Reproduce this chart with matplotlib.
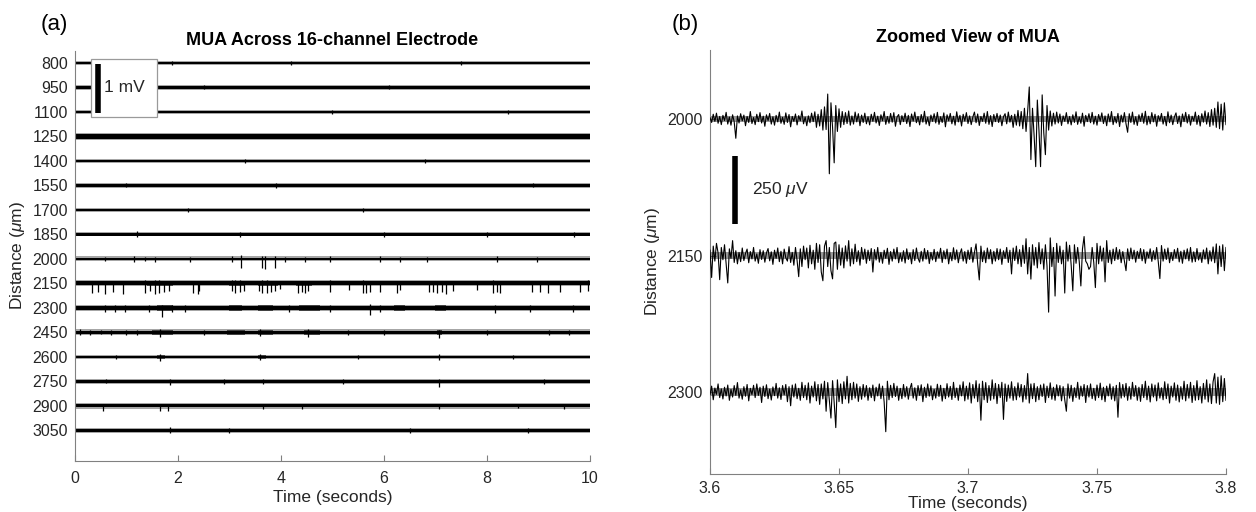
import numpy as np
import matplotlib
matplotlib.use("Agg")
import matplotlib.pyplot as plt
from matplotlib.patches import Rectangle

plt.rcParams['font.family'] = ['Liberation Sans', 'DejaVu Sans']
plt.rcParams['mathtext.fontset'] = 'custom'
plt.rcParams['mathtext.rm'] = 'Liberation Sans'
plt.rcParams['mathtext.it'] = 'Liberation Sans:italic'

# ---------------- data: panel (a) ----------------
depths = [800, 950, 1100, 1250, 1400, 1550, 1700, 1850,
          2000, 2150, 2300, 2450, 2600, 2750, 2900, 3050]
depth_labels = [str(d) for d in depths]
# dense core noise half-width per channel (uV) and peak noise envelope (uV)
noise_uv = [26, 26, 24, 50, 26, 26, 26, 24, 26, 40, 34, 36, 28, 28, 30, 34]
noise_peak_uv = [45, 45, 42, 75, 45, 45, 45, 42, 50, 62, 60, 62, 50, 50, 52, 58]

# spikes per channel: (time s, lowest uV, highest uV)
spikes_800 = [(1.88, -40, 45), (4.2, -35, 40), (7.5, -35, 40)]
spikes_950 = [(2.5, -40, 40), (6.1, -35, 40)]
spikes_1100 = [(1.2, -40, 40), (5.0, -35, 40), (8.4, -40, 35)]
spikes_1250 = []
spikes_1400 = [(3.3, -45, 40), (6.8, -40, 45)]
spikes_1550 = [(1.0, -40, 45), (3.9, -45, 40), (8.9, -40, 40)]
spikes_1700 = [(2.2, -40, 40), (5.6, -45, 40)]
spikes_1850 = [(1.2, -50, 60), (3.2, -50, 50), (6.0, -50, 45), (8.0, -45, 50), (9.7, -50, 45)]
spikes_2000 = [(0.58, -50, 45), (1.15, -60, 50), (1.36, -50, 40), (1.55, -55, 45),
               (2.23, -60, 45), (3.05, -70, 60), (3.22, -190, 90), (3.63, -190, 60),
               (3.69, -200, 60), (3.88, -190, 50), (4.08, -60, 45), (4.47, -55, 45),
               (4.95, -55, 50), (5.92, -70, 50), (6.31, -60, 45), (6.83, -55, 45),
               (8.19, -60, 50), (8.97, -55, 45)]
spikes_2150 = [(0.33, -200, 60), (0.45, -180, 50), (0.58, -210, 60), (0.73, -170, 50),
               (0.93, -220, 60), (1.35, -200, 70), (1.46, -160, 60), (1.55, -210, 70),
               (1.64, -190, 70), (1.72, -170, 60), (1.82, -150, 60), (2.30, -200, 50),
               (2.39, -210, 60), (2.41, -150, 50), (3.05, -150, 70), (3.11, -200, 80),
               (3.21, -180, 70), (3.28, -160, 60), (3.57, -160, 60), (3.63, -190, 70),
               (3.73, -200, 70), (3.81, -170, 60), (3.89, -150, 60), (3.99, -120, 50),
               (4.34, -200, 60), (4.41, -180, 60), (4.47, -200, 50), (4.53, -160, 50),
               (4.95, -180, 80), (5.33, -140, 50), (5.60, -190, 70), (5.66, -200, 60),
               (5.73, -180, 60), (5.92, -170, 60), (6.26, -190, 60), (6.31, -140, 50),
               (6.88, -180, 60), (6.96, -170, 60), (7.03, -190, 60), (7.12, -180, 60),
               (7.20, -210, 60), (7.34, -150, 50), (7.80, -140, 50), (8.12, -200, 70),
               (8.19, -180, 60), (8.25, -190, 60), (8.87, -180, 60), (9.03, -170, 60),
               (9.19, -190, 60), (9.42, -180, 60), (9.81, -170, 60), (9.97, -160, 80)]
spikes_2300 = [(0.58, -90, 50), (0.78, -80, 50), (0.97, -90, 50), (1.44, -80, 50),
               (1.69, -180, 60), (1.88, -90, 60), (2.14, -80, 50), (4.16, -90, 50),
               (4.95, -80, 60), (5.73, -140, 80), (5.92, -90, 60), (8.16, -110, 70),
               (8.83, -80, 50), (9.67, -80, 50)]
spikes_2450 = [(0.1, -50, 70), (0.3, -60, 60), (0.5, -40, 60), (0.7, -60, 50),
               (1.0, -50, 50), (1.2, -60, 60), (1.65, -90, 80), (2.5, -50, 50),
               (3.6, -70, 70), (4.52, -90, 70), (5.3, -50, 60), (6.0, -60, 50),
               (7.07, -110, 60), (8.0, -50, 50), (9.2, -60, 60), (9.6, -60, 50)]
spikes_2600 = [(0.8, -45, 50), (1.65, -80, 60), (3.6, -60, 60), (5.5, -50, 50),
               (7.07, -70, 60), (8.5, -45, 50)]
spikes_2750 = [(0.6, -40, 45), (1.85, -80, 60), (2.9, -50, 50), (3.65, -60, 50),
               (5.2, -45, 50), (7.07, -110, 60), (9.1, -60, 50)]
spikes_2900 = [(0.54, -110, 40), (1.65, -110, 50), (1.8, -100, 40), (3.65, -70, 50),
               (4.4, -60, 50), (7.07, -70, 50), (8.6, -50, 50), (9.5, -60, 45)]
spikes_3050 = [(1.85, -60, 80), (3.0, -50, 50), (6.5, -45, 50), (8.8, -50, 55)]

# bursts of thicker activity: (start s, end s, half-width uV)
bursts_2150 = [(1.4, 1.9, 58), (3.0, 3.3, 58), (3.55, 3.95, 58), (4.3, 4.6, 55)]
bursts_2300 = [(1.6, 1.9, 62), (3.0, 3.25, 55), (3.55, 3.85, 62), (4.35, 4.75, 58),
               (6.2, 6.4, 62), (7.0, 7.2, 62)]
bursts_2450 = [(1.5, 1.9, 58), (2.95, 3.3, 58), (3.55, 3.85, 58), (4.45, 4.75, 58),
               (7.03, 7.13, 58)]
bursts_2600 = [(1.6, 1.75, 48), (3.55, 3.7, 48)]

spike_lists = [spikes_800, spikes_950, spikes_1100, spikes_1250, spikes_1400,
               spikes_1550, spikes_1700, spikes_1850, spikes_2000, spikes_2150,
               spikes_2300, spikes_2450, spikes_2600, spikes_2750, spikes_2900,
               spikes_3050]
burst_lists = {2150: bursts_2150, 2300: bursts_2300, 2450: bursts_2450, 2600: bursts_2600}

x_ticks_a = [0, 2, 4, 6, 8, 10]

# ---------------- data: panel (b) ----------------
zoom_depths = [2000, 2150, 2300]
zoom_labels = ['2000', '2150', '2300']
zoom_core_uv = [12, 14, 14]
x_ticks_b = [3.6, 3.65, 3.7, 3.75, 3.8]
x_ticklabels_b = ['3.6', '3.65', '3.7', '3.75', '3.8']

v2000 = [5, -12, 18, -8, 22, -15, 10, -20, 14, -5, 25, -18, 8, -22, 16, -10, -70, 12, -14, 20,
         -6, 15, -24, 10, -12, 28, -16, 6, -20, 18, -9, 24, -14, 11, -26, 16, -5, 21, -18, 9,
         -22, 14, -10, 26, -15, 7, -19, 23, -12, 17, -28, 10, -8, 19, -21, 13, -6, 30, -17, 8,
         -24, 12, -13, 22, -9, 27, -30, 18, -25, 35, -40, 45, -38, 92, -200, 60, -30, -160, 50, -45,
         38, -30, 28, -20, 24, -16, 30, -22, 12, -18, 26, -10, 20, -24, 15, -12, 22, -17, 9, -21,
         18, -8, 25, -14, 11, -23, 16, -6, 28, -19, 10, -15, 21, -11, 24, -26, 8, 17, -20, 13,
         -9, 22, -16, 14, -27, 19, -7, 26, -13, 10, -21, 17, -11, 29, -18, 7, -24, 15, -8, 20,
         -14, 25, -19, 9, -12, 23, -28, 16, -6, 21, -17, 11, -22, 27, -10, 14, -25, 18, -7, 24,
         -16, 12, -20, 8, 26, -13, 19, -23, 10, -8, 22, -15, 28, -19, 13, -27, 17, -9, 21, -12,
         15, -24, 9, 20, -17, 26, -11, 14, -30, 18, -22, 32, -25, 28, -35, 40, -45, 30, 118, -148,
         40, -60, -174, 70, -40, -174, 89, -50, -130, 50, -40, 30, -25, 22, -18, 26, -14, 19, -23, 12,
         -8, 24, -17, 10, -21, 16, -12, 27, -19, 8, -15, 22, -26, 14, -9, 20, -13, 25, -18, 11,
         -22, 17, -7, 23, -16, 12, -24, 19, -10, 28, -20, 9, -14, 21, -27, 15, -11, 24, -17, -48,
         20, -12, 26, -19, 9, -23, 16, -8, 22, -15, 29, -21, 11, -17, 24, -10, 18, -26, 13, -6,
         21, -18, 10, -24, 27, -13, 15, -20, 8, 23, -16, 12, -28, 19, -9, 25, -14, 17, -22, 11,
         -7, 26, -19, 14, -25, 20, -11, 30, -18, 24, -27, 35, -22, 40, -30, 63, -35, 55, -40, 60,
         -20]

v2150 = [20, -80, 35, -20, 45, 10, -88, 30, -15, 40, -30, -100, 25, -10, 55, -25, 18, -30, 12, -22,
         28, -18, 8, 24, -26, 15, -12, 30, -20, 6, -28, 22, -14, 18, -24, 10, 26, -19, 14, -32,
         20, -10, 28, -22, 16, -30, 24, -8, -20, 33, -25, 12, -35, 30, -18, -77, 25, -40, 35, -15,
         28, -45, 38, -30, 20, -50, 45, -25, 40, -60, -92, 35, 55, -40, 30, -55, -85, 45, 50, -50,
         40, -35, 28, -45, 36, -20, 55, -38, 25, -30, 42, -22, 18, -35, 30, -14, 24, -28, 20, -18,
         26, -60, 22, -16, 30, -24, 12, -28, 20, -10, 27, -32, 15, -20, 24, -12, 30, -26, 9, -21,
         18, -27, 25, -14, 10, -30, 22, -18, 28, -9, -24, 16, -20, 26, -13, 19, -29, 12, -16, 23,
         -22, 14, -8, 27, -25, 18, -12, 24, -30, 11, -19, 29, -15, 21, -26, 8, 25, -20, 15, -28,
         20, -14, 30, -24, 12, 43, -30, -89, 35, -22, 18, -26, 28, -12, 22, -30, 16, -20, 26, -15,
         24, -32, 18, -10, 30, -25, 20, -67, 28, -18, 35, -30, 22, -40, 38, -28, 62, -67, 30, -86,
         40, -35, 30, -45, 48, -30, 25, -50, 40, -38, -207, 65, -40, 30, -148, 45, -25, 35, -30, 20,
         -137, 50, -20, 38, -35, -129, 40, -28, 30, -22, -111, 25, 70, -20, -30, -50, -40, 30, -25, -117,
         45, -30, 35, -20, 28, -96, 55, -25, 20, -30, 24, -18, 30, -14, 22, -26, 15, -20, -55, 25,
         -18, 28, -12, 20, -24, 16, -10, 26, -19, 22, -28, 14, -8, 25, -21, 18, -15, 30, -22, -84,
         37, -20, 24, -14, 28, -26, 12, -18, 22, -9, 27, -23, 16, -28, 20, -12, 25, -19, 30, -24,
         14, -22, 26, -16, 10, -25, 21, -13, 28, -30, 18, -20, 32, -26, 43, -67, 35, -40, 40, -55,
         30]

v2300 = [-10, 22, -28, 15, -8, 30, -20, 12, -25, 18, -14, 26, -30, 10, -18, 24, -12, 35, -22, 8,
         -26, 20, -15, 28, -32, 14, -9, 25, -20, 30, -12, 18, -38, 22, -16, 27, -24, 11, -29, 19,
         -13, 32, -22, 16, -27, 24, -10, 28, -35, 20, -50, 26, -18, 30, -24, 14, -30, 36, -20, 25,
         -28, 34, -40, 22, -18, 38, -32, 28, -45, 30, -25, 40, -70, 35, -30, -95, 42, -38, -130, 45,
         -35, 30, -42, 38, -25, 58, -40, 32, -28, 36, -22, 30, -34, 20, -26, 28, -18, 24, -30, 16,
         -20, 26, -32, 18, -14, 30, -24, 22, -36, -145, 40, -28, 25, -20, 32, -16, 22, -30, 14, -24,
         28, -18, 20, -26, 12, 32, -22, 16, -30, 24, -12, 27, -35, 18, -20, 30, -15, 23, -28, 10,
         -22, 29, -16, 25, -33, 14, -24, 31, -18, 21, -27, 36, -20, 15, -30, 26, -14, 38, -32, 22,
         -26, 34, -40, 28, -22, 42, -35, 30, -103, 40, -28, 35, -38, 24, -30, 45, -25, 32, -42, 28,
         -20, 36, -100, 30, -34, 26, -22, 38, -30, 20, -28, 34, -18, 28, -36, 24, -26, 68, -40, 30,
         -24, 32, -35, 20, -28, 26, -16, 30, -38, 22, -20, 34, -26, 18, -30, 27, -14, 24, -32, 20,
         -28, -70, 30, -22, 25, -34, 16, -20, 36, -26, 22, -15, 28, -38, 24, -18, 30, -24, 14, -30,
         26, -20, 33, -28, 18, -35, 22, -14, 30, -26, 20, -32, 25, -92, 35, -22, 28, -18, 32, -30,
         20, -26, 36, -16, 24, -30, 18, -34, 28, -20, 40, -28, 22, -36, 30, -18, 26, -32, 34, -22,
         16, -28, 38, -24, 30, -40, 22, -18, 34, -30, 26, -36, 20, -26, 40, -32, 28, -22, 36, -38,
         24, -30, 42, -28, 20, -40, 32, -26, 45, -36, 30, -42, 38, 68, -40, 55, -45, 60, -35, 50,
         -30]
zoom_traces = [v2000, v2150, v2300]

scale_a_uv = 1000
scale_a_label = '1 mV'
scale_b_uv = 250
scale_b_label = r'250 $\mu$V'

# ---------------- styling ----------------
K = 0.3            # depth units per uV
TXT = '#262626'
SPINE = '#808080'

fig = plt.figure(figsize=(12.56, 5.12), dpi=100)
ax1 = fig.add_axes([0.0597, 0.0996, 0.4100, 0.8008])
ax2 = fig.add_axes([0.5653, 0.0742, 0.4108, 0.8281])

# ---- panel (a)
for d, hw, pk, spk in zip(depths, noise_uv, noise_peak_uv, spike_lists):
    ax1.fill_between([0, 10], d - pk * K, d + pk * K, color='k', alpha=0.35, lw=0, zorder=2)
    ax1.fill_between([0, 10], d - hw * K, d + hw * K, color='k', lw=0, zorder=2)
    for (t0, t1, a) in burst_lists.get(d, []):
        ax1.fill_between([t0, t1], d - a * K, d + a * K, color='k', alpha=0.6, lw=0, zorder=2)
    if spk:
        ts = [s[0] for s in spk]
        lo = np.array([s[1] for s in spk])
        hi = np.array([s[2] for s in spk])
        ax1.vlines(ts, d - hi * K, d - lo * K, color='k', lw=0.9, zorder=2)

ax1.set_xlim(0, 10)
ax1.set_ylim(3237, 727)
ax1.set_xticks(x_ticks_a)
ax1.set_xticklabels([str(v) for v in x_ticks_a])
ax1.set_yticks(depths)
ax1.set_yticklabels(depth_labels)
ax1.set_xlabel('Time (seconds)', fontsize=12.5, color=TXT, labelpad=3)
ax1.set_ylabel(r'Distance ($\mu$m)', fontsize=12.5, color=TXT, labelpad=4)
ax1.set_title('MUA Across 16-channel Electrode', fontsize=13, fontweight='bold',
              color='k', pad=4)

# scale bar box (a)
ax1.add_patch(Rectangle((0.31, 775), 1.28, 355, facecolor='white', edgecolor='#9a9a9a',
                        lw=0.9, zorder=5))
ax1.plot([0.45, 0.45], [806, 806 + scale_a_uv * K], color='k', lw=4.0,
         solid_capstyle='butt', zorder=6)
ax1.text(0.56, 953, scale_a_label, fontsize=12.5, color=TXT, va='center', ha='left', zorder=6)

# ---- panel (b)
for d, v, core in zip(zoom_depths, zoom_traces, zoom_core_uv):
    t = np.linspace(3.6, 3.8, len(v))
    ax2.fill_between([3.6, 3.8], d - core * K, d + core * K, color='k', alpha=0.4,
                     lw=0, zorder=2)
    ax2.plot(t, d - np.array(v) * K, color='k', lw=0.8, zorder=3)

ax2.set_xlim(3.6, 3.8)
ax2.set_ylim(2390, 1924)
ax2.set_xticks(x_ticks_b)
ax2.set_xticklabels(x_ticklabels_b)
ax2.set_yticks(zoom_depths)
ax2.set_yticklabels(zoom_labels)
ax2.set_xlabel('Time (seconds)', fontsize=12.5, color=TXT, labelpad=0)
ax2.set_ylabel(r'Distance ($\mu$m)', fontsize=12.5, color=TXT, labelpad=4)
ax2.set_title('Zoomed View of MUA', fontsize=13, fontweight='bold', color='k', pad=6)

ax2.plot([3.6097, 3.6097], [2040, 2040 + scale_b_uv * K], color='k', lw=4.0,
         solid_capstyle='butt', zorder=6)
ax2.text(3.6163, 2077, scale_b_label, fontsize=12.5, color=TXT, va='center', ha='left')

for ax in (ax1, ax2):
    for s in ('top', 'right'):
        ax.spines[s].set_visible(False)
    for s in ('left', 'bottom'):
        ax.spines[s].set_color(SPINE)
        ax.spines[s].set_linewidth(0.8)
    ax.tick_params(axis='both', direction='in', length=4, width=0.8, color=SPINE,
                   labelsize=11.5, labelcolor=TXT)
    ax.tick_params(axis='y', pad=5)
ax1.tick_params(axis='x', pad=7)
ax2.tick_params(axis='x', pad=5)

fig.text(0.032, 0.953, '(a)', fontsize=16, color='k', ha='left', va='center')
fig.text(0.535, 0.953, '(b)', fontsize=16, color='k', ha='left', va='center')

fig.savefig('out.png', dpi=100)
